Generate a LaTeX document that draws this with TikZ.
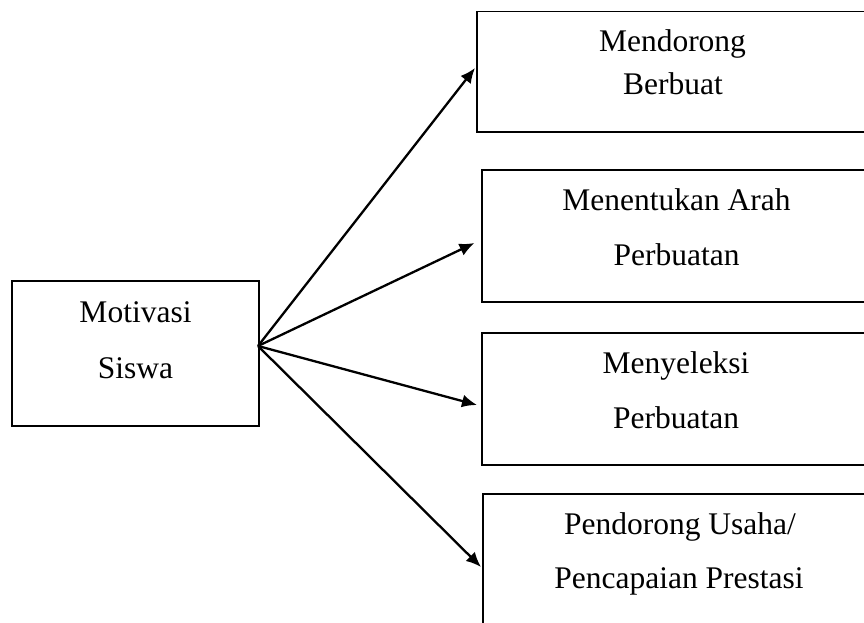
\documentclass[tikz,border=0pt]{standalone}
\usepackage{fontspec}
\setmainfont{Liberation Serif}
\usetikzlibrary{arrows.meta}
\begin{document}
\begin{tikzpicture}[x=1pt,y=-1pt,
  box/.style={draw=black,line width=1.7pt,rectangle,inner sep=0pt},
  lbl/.style={anchor=base,inner sep=0pt,font=\fontsize{31.5}{38}\selectfont},
  conn/.style={line width=2.3pt,-{Latex[length=15pt,width=13pt]}}]
\useasboundingbox (0,0) rectangle (864,623);
\clip (0,0) rectangle (864,623);
\fill[white] (0,0) rectangle (864,623);
% boxes
\node[box,minimum width=247pt,minimum height=145pt] (m) at (135.5,353.5) {};
\node[box,minimum width=423pt,minimum height=120.5pt] (b1) at (688.5,71.8) {};
\node[box,minimum width=418pt,minimum height=132pt] (b2) at (691,236) {};
\node[box,minimum width=418pt,minimum height=132pt] (b3) at (691,399) {};
\node[box,minimum width=417pt,minimum height=146pt] (b4) at (691.5,567) {};
% texts
\node[lbl] (m1) at (135.5,322) {Motivasi};
\node[lbl] (m2) at (135.5,378) {Siswa};
\node[lbl] (t11) at (672.5,52) {Mendorong};
\node[lbl] (t12) at (673,95) {Berbuat};
\node[lbl] (t21) at (676.5,210) {Menentukan Arah};
\node[lbl] (t22) at (676.5,265) {Perbuatan};
\node[lbl] (t31) at (676,373) {Menyeleksi};
\node[lbl] (t32) at (676,428) {Perbuatan};
\node[lbl] (t41) at (680,534) {Pendorong Usaha/};
\node[lbl] (t42) at (679,588) {Pencapaian Prestasi};
% connectors
\coordinate (o) at (258,346);
\coordinate (e1) at (475,68);
\coordinate (e2) at (474.5,243);
\coordinate (e3) at (477,405);
\coordinate (e4) at (481,567);
\draw[conn] (o) -- (e1);
\draw[conn] (o) -- (e2);
\draw[conn] (o) -- (e3);
\draw[conn] (o) -- (e4);
\end{tikzpicture}
\end{document}
